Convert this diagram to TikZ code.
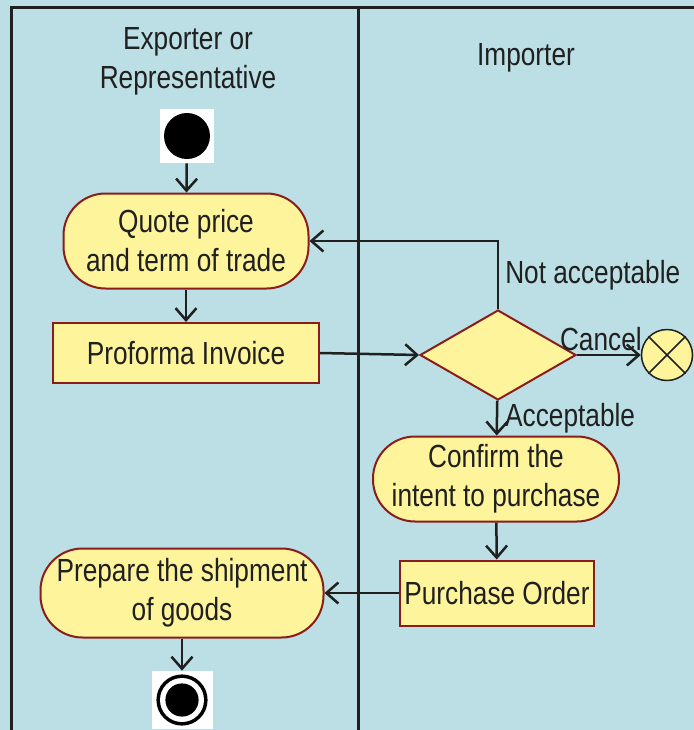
\documentclass[tikz,border=0pt]{standalone}
\usepackage{fontspec}
\setmainfont{Liberation Sans}[FakeStretch=0.82]
\usetikzlibrary{shapes.geometric,arrows.meta}
\definecolor{laneblue}{HTML}{BBDFE4}
\definecolor{actfill}{HTML}{FDF49C}
\definecolor{actline}{HTML}{8A1C1C}
\definecolor{inkgray}{HTML}{202020}

\begin{document}
\begin{tikzpicture}[x=0.5pt,y=-0.5pt,
    every node/.style={font=\fontsize{16}{19.5}\selectfont, text=inkgray},
    action/.style={draw=actline, fill=actfill, line width=1pt, rounded corners=21pt,
      align=center, inner sep=0pt},
    docbox/.style={draw=actline, fill=actfill, line width=1pt, align=center, inner sep=0pt},
    flow/.style={draw=inkgray, line width=1.25pt, -{Straight Barb[length=6pt,width=10.5pt]}},
    lane/.style={draw=inkgray, line width=1.5pt}
  ]
  \useasboundingbox[fill=laneblue] (0,0) rectangle (694,730);

  % swimlanes
  \draw[lane] (11,730) -- (11,7) -- (694,7);
  \draw[lane] (358,7) -- (358,730);
  \node[align=center] (exporter) at (188,61) {Exporter or\\Representative};
  \node (importer) at (526,58) {Importer};

  % start and end
  \node[fill=white, minimum size=27pt, inner sep=0pt] (start) at (187,136) {};
  \fill[black] (start.center) circle (11.5pt);
  \node[fill=white, minimum width=30.5pt, minimum height=29pt, inner sep=0pt] (stop) at (182,700) {};
  \fill[black] (stop.center) circle (12.8pt);
  \fill[white] (stop.center) circle (11pt);
  \fill[black] (stop.center) circle (8.3pt);

  % activities
  \node[action, minimum width=122.5pt, minimum height=47.5pt] (quote) at (186,241)
    {Quote price\\and term of trade};
  \node[docbox, minimum width=133pt, minimum height=30pt] (proforma) at (186,353)
    {Proforma Invoice};
  \node[diamond, draw=actline, fill=actfill, line width=1pt, minimum width=78pt,
    minimum height=45pt, inner sep=0pt] (decide) at (498,355) {};
  \node[circle, draw=inkgray, fill=actfill, line width=0.75pt, minimum size=25.5pt,
    inner sep=0pt] (cancelend) at (667,355) {};
  \draw[inkgray, line width=0.75pt] (cancelend.north west) -- (cancelend.south east)
    (cancelend.north east) -- (cancelend.south west);
  \node[action, minimum width=123pt, minimum height=42.5pt] (confirm) at (496,479)
    {Confirm the\\intent to purchase};
  \node[docbox, minimum width=97pt, minimum height=32.5pt] (order) at (497,593)
    {Purchase Order};
  \node[action, minimum width=141.5pt, minimum height=44.5pt] (prepare) at (182,593)
    {Prepare the shipment\\of goods};

  % flows
  \draw[flow] (start) -- (quote);
  \draw[flow] (quote) -- (proforma);
  \draw[flow] (proforma.east) -- (decide.west);
  \draw[flow] (decide.north) |- node[pos=0.25, anchor=west, inner sep=3pt] {Not acceptable}
    (quote.east);
  \draw[flow] (decide) -- node[anchor=south, inner sep=1.5pt, xshift=-4pt] {Cancel}
    (cancelend);
  \draw[flow] (decide) -- node[anchor=west, inner sep=3.5pt] {Acceptable} (confirm);
  \draw[flow] (confirm) -- (order);
  \draw[flow] (order) -- (prepare);
  \draw[flow] (prepare) -- (stop);
\end{tikzpicture}
\end{document}
